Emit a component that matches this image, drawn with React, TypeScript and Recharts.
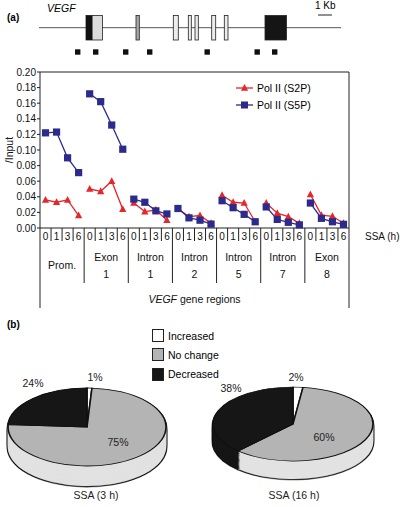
import React from 'react';
import { LineChart, Line, XAxis, YAxis, Label, PieChart, Pie, Cell } from 'recharts';

// panel (a): ChIP signal per VEGF region and SSA time point
const regions = ['Prom.', 'Exon 1', 'Intron 1', 'Intron 2', 'Intron 5', 'Intron 7', 'Exon 8'];
const hours = [0, 1, 3, 6];
const seriesNames = ['Pol II (S2P)', 'Pol II (S5P)'];
const s2p = [
  [0.036, 0.033, 0.036, 0.016],
  [0.05, 0.047, 0.06, 0.024],
  [0.032, 0.021, 0.023, 0.01],
  [0.025, 0.0145, 0.016, 0.006],
  [0.042, 0.033, 0.032, 0.008],
  [0.032, 0.019, 0.0145, 0.006],
  [0.043, 0.0165, 0.015, 0.006],
];
const s5p = [
  [0.122, 0.123, 0.09, 0.071],
  [0.172, 0.162, 0.132, 0.101],
  [0.037, 0.033, 0.022, 0.018],
  [0.025, 0.013, 0.01, 0.005],
  [0.035, 0.026, 0.0175, 0.008],
  [0.027, 0.011, 0.0073, 0.004],
  [0.032, 0.0124, 0.008, 0.0047],
];
const yTicks = [0, 0.02, 0.04, 0.06, 0.08, 0.1, 0.12, 0.14, 0.16, 0.18, 0.2];

// panel (b): share of genes per change class
const pieGroups = ['Increased', 'No change', 'Decreased'];
const pie3h = [1, 75, 24];
const pie16h = [2, 60, 38];
const pieTitles = ['SSA (3 h)', 'SSA (16 h)'];

const RED = '#e5262b';
const BLUE = '#2c2b8c';
const INK = '#222';
const FONT = '"Liberation Sans", Arial, Helvetica, sans-serif';
const TOP_COLORS = ['#ffffff', '#b4b4b4', '#161616'];
const SIDE_COLORS = ['#ffffff', '#e2e2e2', '#161616'];

const PLOT_LEFT = 40;
const PLOT_RIGHT = 349;
const N = regions.length * hours.length;
const BW = (PLOT_RIGHT - PLOT_LEFT) / N;

const rows = regions.flatMap((_, g) =>
  hours.map((h, j) => {
    const row: Record<string, number> = { idx: g * hours.length + j, hour: h };
    row[`s2p${g}`] = s2p[g][j];
    row[`s5p${g}`] = s5p[g][j];
    return row;
  })
);

const Tri = (p: any) =>
  p.cx == null || p.cy == null ? (
    <g key={`t${p.index}`} />
  ) : (
    <path
      key={`t${p.index}`}
      d={`M${p.cx},${p.cy - 4} L${p.cx + 3.6},${p.cy + 2.8} L${p.cx - 3.6},${p.cy + 2.8} Z`}
      fill={RED}
    />
  );

const Sq = (p: any) =>
  p.cx == null || p.cy == null ? (
    <g key={`s${p.index}`} />
  ) : (
    <rect key={`s${p.index}`} x={p.cx - 3.6} y={p.cy - 3.6} width={7.2} height={7.2} fill={BLUE} />
  );

function RegionTick(props: any) {
  const { x, y, payload } = props;
  const i = Number(payload.value);
  const j = i % hours.length;
  const g = Math.floor(i / hours.length);
  const half = BW / 2;
  const last = i === N - 1;
  const lineLen = last ? 80 : j === hours.length - 1 ? 55 : 13;
  const words = regions[g].split(' ');
  const txt = { fontSize: 10, fill: '#111', fontFamily: FONT } as const;
  return (
    <g>
      <text x={x} y={y + 12} textAnchor="middle" {...txt}>{hours[j]}</text>
      <line x1={x + half} x2={x + half} y1={y} y2={y + lineLen} stroke={INK} />
      {i === 0 && <line x1={x - half} x2={x - half} y1={y} y2={y + 80} stroke={INK} />}
      {j === 1 &&
        (words.length === 1 ? (
          <text x={x + half} y={y + 41} textAnchor="middle" {...txt} fontSize={10.5}>{words[0]}</text>
        ) : (
          <>
            <text x={x + half} y={y + 33} textAnchor="middle" {...txt} fontSize={10.5}>{words[0]}</text>
            <text x={x + half} y={y + 50} textAnchor="middle" {...txt} fontSize={10.5}>{words[1]}</text>
          </>
        ))}
      {i === N / 2 - 1 && (
        <text x={x + half} y={y + 75} textAnchor="middle" {...txt} fontSize={10.5}>
          <tspan fontStyle="italic">VEGF</tspan> gene regions
        </text>
      )}
      {last && <text x={x + half + 16} y={y + 12} {...txt}>SSA (h)</text>}
    </g>
  );
}

function GeneMap() {
  const exon = (x: number, w: number, fill: string) => (
    <rect x={x} y={15.5} width={w} height={24.5} fill={fill} stroke={INK} strokeWidth={0.8} />
  );
  const probes = [75, 93, 123, 147, 204.5, 254.5, 272];
  return (
    <svg width={400} height={60} style={{ position: 'absolute', left: 0, top: 0 }}>
      <text x={7} y={21} fontSize={10} fontWeight="bold" fontFamily={FONT}>(a)</text>
      <text x={47} y={12} fontSize={10.5} fontStyle="italic" fontFamily={FONT}>VEGF</text>
      <text x={315} y={9} fontSize={10} fontFamily={FONT}>1 Kb</text>
      <line x1={318} x2={332} y1={15} y2={15} stroke={INK} />
      <line x1={39} x2={341} y1={27.7} y2={27.7} stroke="#555" />
      {exon(86, 16.5, '#dcdcdc')}
      <rect x={86} y={15.5} width={6.5} height={24.5} fill="#111" />
      {exon(136, 3.3, '#a8a8a8')}
      {exon(173.3, 5, '#ececec')}
      {exon(188.3, 3, '#ececec')}
      {exon(195, 3.3, '#ececec')}
      {exon(211.7, 4, '#ececec')}
      {exon(224.3, 3.7, '#ececec')}
      {exon(265, 21.5, '#151515')}
      {probes.map((px) => (
        <rect key={px} x={px} y={49.3} width={5.4} height={5.4} fill="#111" />
      ))}
    </svg>
  );
}

function PolLegend() {
  const colors = [RED, BLUE];
  return (
    <div style={{ position: 'absolute', left: 236, top: 79, fontFamily: FONT, fontSize: 10.5 }}>
      {seriesNames.map((n, k) => (
        <div key={n} style={{ display: 'flex', alignItems: 'center', height: 17.5 }}>
          <svg width={20} height={12}>
            <line x1={0} x2={17} y1={6} y2={6} stroke={colors[k]} strokeWidth={1.3} />
            {k === 0 ? (
              <path d="M8.5,2 L12.1,8.8 L4.9,8.8 Z" fill={RED} />
            ) : (
              <rect x={5} y={2.5} width={7} height={7} fill={BLUE} />
            )}
          </svg>
          <span style={{ marginLeft: 1 }}>{n}</span>
        </div>
      ))}
    </div>
  );
}

const PIE_TOP = 380;

function Pie3D(props: { values: number[]; left: number; cx: number; cy: number; rx: number; ry: number; depth: number }) {
  const { values, left, cx, cy, rx, ry, depth } = props;
  const s = ry / rx;
  const H = 130 / s;
  const cyU = (cy - PIE_TOP) / s;
  const d = depth / s;
  const data = pieGroups.map((name, k) => ({ name, value: values[k] }));
  const offsets: number[] = [];
  for (let o = d; o > 0; o -= 2.5) offsets.push(o);
  const common = {
    data,
    dataKey: 'value',
    cx: cx - left,
    startAngle: 90,
    endAngle: -270,
    isAnimationActive: false,
  };
  return (
    <div
      style={{
        position: 'absolute',
        left,
        top: PIE_TOP,
        width: 180,
        height: H,
        transform: `scaleY(${s})`,
        transformOrigin: '0 0',
      }}
    >
      <PieChart width={180} height={H} margin={{ top: 0, right: 0, bottom: 0, left: 0 }}>
        {offsets.map((o) => (
          <Pie key={`b${o}`} {...common} cy={cyU + o + 1.3} outerRadius={rx + 1} fill="#111" stroke="#111" strokeWidth={0.5} />
        ))}
        {offsets.map((o) => (
          <Pie key={`s${o}`} {...common} cy={cyU + o} outerRadius={rx}>
            {data.map((e, k) => (
              <Cell key={e.name} fill={SIDE_COLORS[k]} stroke={SIDE_COLORS[k]} strokeWidth={0.5} />
            ))}
          </Pie>
        ))}
        <Pie key="top" {...common} cy={cyU} outerRadius={rx}>
          {data.map((e, k) => (
            <Cell key={e.name} fill={TOP_COLORS[k]} stroke="#111" strokeWidth={1.6} />
          ))}
        </Pie>
      </PieChart>
    </div>
  );
}

const pieLabelPos = [
  [[95, 377], [118, 442], [33, 383]],
  [[296, 377], [324, 437], [231, 388]],
];

function PieText({ x, y, children }: { x: number; y: number; children: React.ReactNode }) {
  return (
    <div
      style={{
        position: 'absolute',
        left: x,
        top: y,
        transform: 'translate(-50%, -50%)',
        fontFamily: FONT,
        fontSize: 10.5,
        color: '#222',
        whiteSpace: 'nowrap',
      }}
    >
      {children}
    </div>
  );
}

export default function App() {
  return (
    <div style={{ position: 'absolute', left: 0, top: 0, width: 400, height: 507, background: '#fff', overflow: 'hidden' }}>
      <GeneMap />
      <div style={{ position: 'absolute', left: 0, top: 0 }}>
        <LineChart width={400} height={320} data={rows} margin={{ top: 71, right: 50, bottom: 10, left: 0 }}>
          <XAxis
            dataKey="idx"
            scale="band"
            interval={0}
            height={82}
            tickSize={0}
            tickMargin={0}
            tickLine={false}
            axisLine={{ stroke: INK }}
            tick={<RegionTick />}
          />
          <XAxis
            xAxisId="top"
            dataKey="idx"
            scale="band"
            orientation="top"
            height={1}
            tick={false}
            tickLine={false}
            axisLine={{ stroke: INK }}
          />
          <YAxis
            domain={[0, 0.2]}
            ticks={yTicks}
            interval={0}
            width={40}
            tickSize={3}
            tickMargin={1}
            tickFormatter={(v: number) => v.toFixed(2)}
            tick={{ fill: '#111', fontSize: 10, fontFamily: FONT }}
            tickLine={{ stroke: INK }}
            axisLine={{ stroke: INK }}
          >
            <Label
              content={(p: any) => {
                const vb = p.viewBox;
                const lx = vb.x + 13;
                const ly = vb.y + vb.height / 2;
                return (
                  <text x={lx} y={ly} transform={`rotate(-90 ${lx} ${ly})`} textAnchor="middle" fontSize={10.5} fontFamily={FONT} fill="#111">
                    /Input
                  </text>
                );
              }}
            />
          </YAxis>
          <YAxis
            yAxisId="right"
            orientation="right"
            width={1}
            domain={[0, 0.2]}
            tick={false}
            tickLine={false}
            axisLine={{ stroke: INK }}
          />
          {regions.map((r, g) => (
            <Line
              key={`a${g}`}
              dataKey={`s2p${g}`}
              name={seriesNames[0]}
              stroke={RED}
              strokeWidth={1.3}
              dot={Tri}
              activeDot={false}
              isAnimationActive={false}
              connectNulls={false}
            />
          ))}
          {regions.map((r, g) => (
            <Line
              key={`b${g}`}
              dataKey={`s5p${g}`}
              name={seriesNames[1]}
              stroke={BLUE}
              strokeWidth={1.3}
              dot={Sq}
              activeDot={false}
              isAnimationActive={false}
              connectNulls={false}
            />
          ))}
        </LineChart>
      </div>
      <PolLegend />

      <div style={{ position: 'absolute', left: 7, top: 319, fontFamily: FONT, fontSize: 10, fontWeight: 'bold' }}>(b)</div>
      <div style={{ position: 'absolute', left: 152, top: 326, fontFamily: FONT, fontSize: 10.5 }}>
        {pieGroups.map((n, k) => (
          <div key={n} style={{ display: 'flex', alignItems: 'center', height: 19.3 }}>
            <div style={{ width: 10, height: 11, background: TOP_COLORS[k], border: '1px solid #222' }} />
            <span style={{ marginLeft: 4 }}>{n}</span>
          </div>
        ))}
      </div>

      <Pie3D values={pie3h} left={0} cx={87} cy={427} rx={79} ry={39} depth={20} />
      <Pie3D values={pie16h} left={205} cx={293} cy={424} rx={80} ry={37} depth={18} />
      {[pie3h, pie16h].map((vals, p) =>
        vals.map((v, k) => (
          <PieText key={`${p}-${k}`} x={pieLabelPos[p][k][0]} y={pieLabelPos[p][k][1]}>
            {v}%
          </PieText>
        ))
      )}
      <PieText x={96} y={495}>{pieTitles[0]}</PieText>
      <PieText x={294} y={495}>{pieTitles[1]}</PieText>
    </div>
  );
}
